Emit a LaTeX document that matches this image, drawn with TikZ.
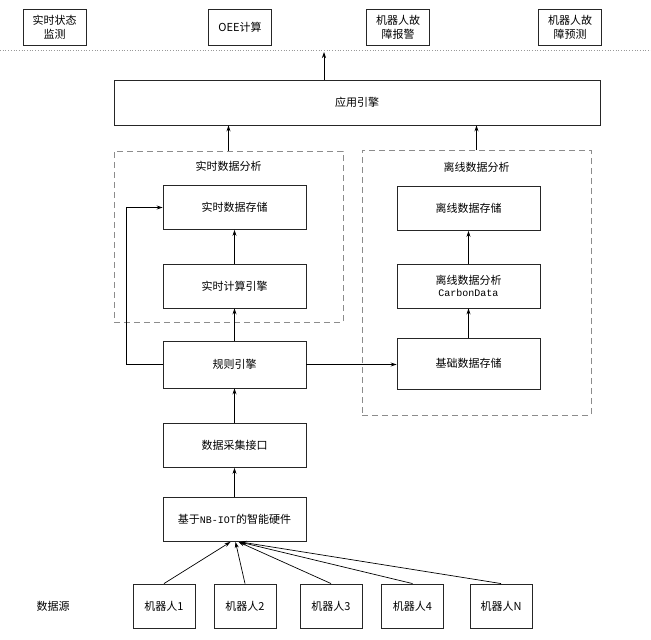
\documentclass[tikz,border=0pt]{standalone}
\usepackage{fontspec}
\setmainfont{Noto Sans CJK SC}
\setmonofont{Liberation Mono}
\usetikzlibrary{arrows,arrows.meta,shapes}
\usetikzlibrary{backgrounds}
\usetikzlibrary{calc}

\begin{document}
\begin{tikzpicture}[x=1pt,y=-1pt,->,>={Stealth[length=6pt,width=4pt]},line width=.7pt,
        box/.style={rectangle,draw=black!85,line width=.9pt,minimum width=143pt,minimum height=44pt,inner sep=0pt,align=center},
        topbox/.style={box,minimum width=63pt,minimum height=36pt},
        robot/.style={box,minimum width=62pt,minimum height=44pt},
        grp/.style={rectangle,draw=black!45,dash pattern=on 6pt off 4pt,line width=.7pt,inner sep=0pt},
        every node/.style={font=\fontsize{11}{14}\selectfont}]
        \path[-,use as bounding box,fill=white] (0,0) rectangle (651,640);
        % applications
        \node[topbox] (a) at (54.5,27) {实时状态\\监测};
        \node[topbox] (b) at (240,27)  {OEE计算};
        \node[topbox] (c) at (398,27)  {机器人故\\障报警};
        \node[topbox] (d) at (570,27)  {机器人故\\障预测};
        \node[box,minimum width=486pt,minimum height=45pt] (1) at (357,102.5) {应用引擎};
        \coordinate (0) at (324,52);
        % analysis groups
        \node[grp,minimum width=229pt,minimum height=171pt] (L) at (228.5,236.5) {};
        \node[grp,minimum width=229pt,minimum height=265pt] (R) at (476.5,282.5) {};
        \node (x) at ($(L.north)+(0,16)$) {实时数据分析};
        \node (y) at ($(R.north)+(0,18)$) {离线数据分析};
        \node[box]  (2) at (234.5,207.5) {实时数据存储};
        \node[box]  (3) [below of=2,node distance=78.5pt] {实时计算引擎};
        \node[box,minimum height=47pt] (4) [below of=3,node distance=78.5pt] {规则引擎};
        \node[box]  (5) [below of=4,node distance=81pt] {数据采集接口};
        \node[box]  (6) [below of=5,node distance=74pt] {基于{\ttfamily\fontsize{10}{12}\selectfont NB-IOT}的智能硬件};
        \node[box]  (7) at (468.5,208.5) {离线数据存储};
        \node[box]  (8) [below of=7,node distance=77.5pt] {离线数据分析\\[-2pt]{\ttfamily\fontsize{10}{12}\selectfont CarbonData}};
        \node[box,minimum height=51pt] (9) [below of=8,node distance=77.5pt] {基础数据存储};
        % data sources
        \node[robot] (10) at (164,606) {机器人1};
        \node[robot] (11) [right of=10,node distance=81pt]   {机器人2};
        \node[robot] (12) [right of=11,node distance=86pt]   {机器人3};
        \node[robot] (13) [right of=12,node distance=81.5pt] {机器人4};
        \node[robot] (14) [right of=13,node distance=88.5pt] {机器人N};
        \node        (z)  [left of=10,node distance=111pt]   {数据源};
        \draw[-,dotted,black!40] (0,50) -- (651,50);
        \path
          (1.north -| 0) edge (0)
          (L.north) edge (1.south -| L.north)
          (R.north) edge (1.south -| R.north)
          (3) edge (2)
          (4) edge (3)
          (5) edge (4)
          (6) edge (5)
          (8) edge (7)
          (9) edge (8)
          (4.east) edge (9.west |- 4.east)
          (10.north) edge ([xshift=-4pt]6.south)
          (11.north) edge ([xshift=1pt]6.south)
          (12.north) edge ([xshift=4pt]6.south)
          (13.north) edge ([xshift=5pt]6.south)
          (14.north) edge ([xshift=6pt]6.south)
          ;
        \draw (4.west) -- ++(-36,0) |- (2.west);
      \end{tikzpicture}
\end{document}
